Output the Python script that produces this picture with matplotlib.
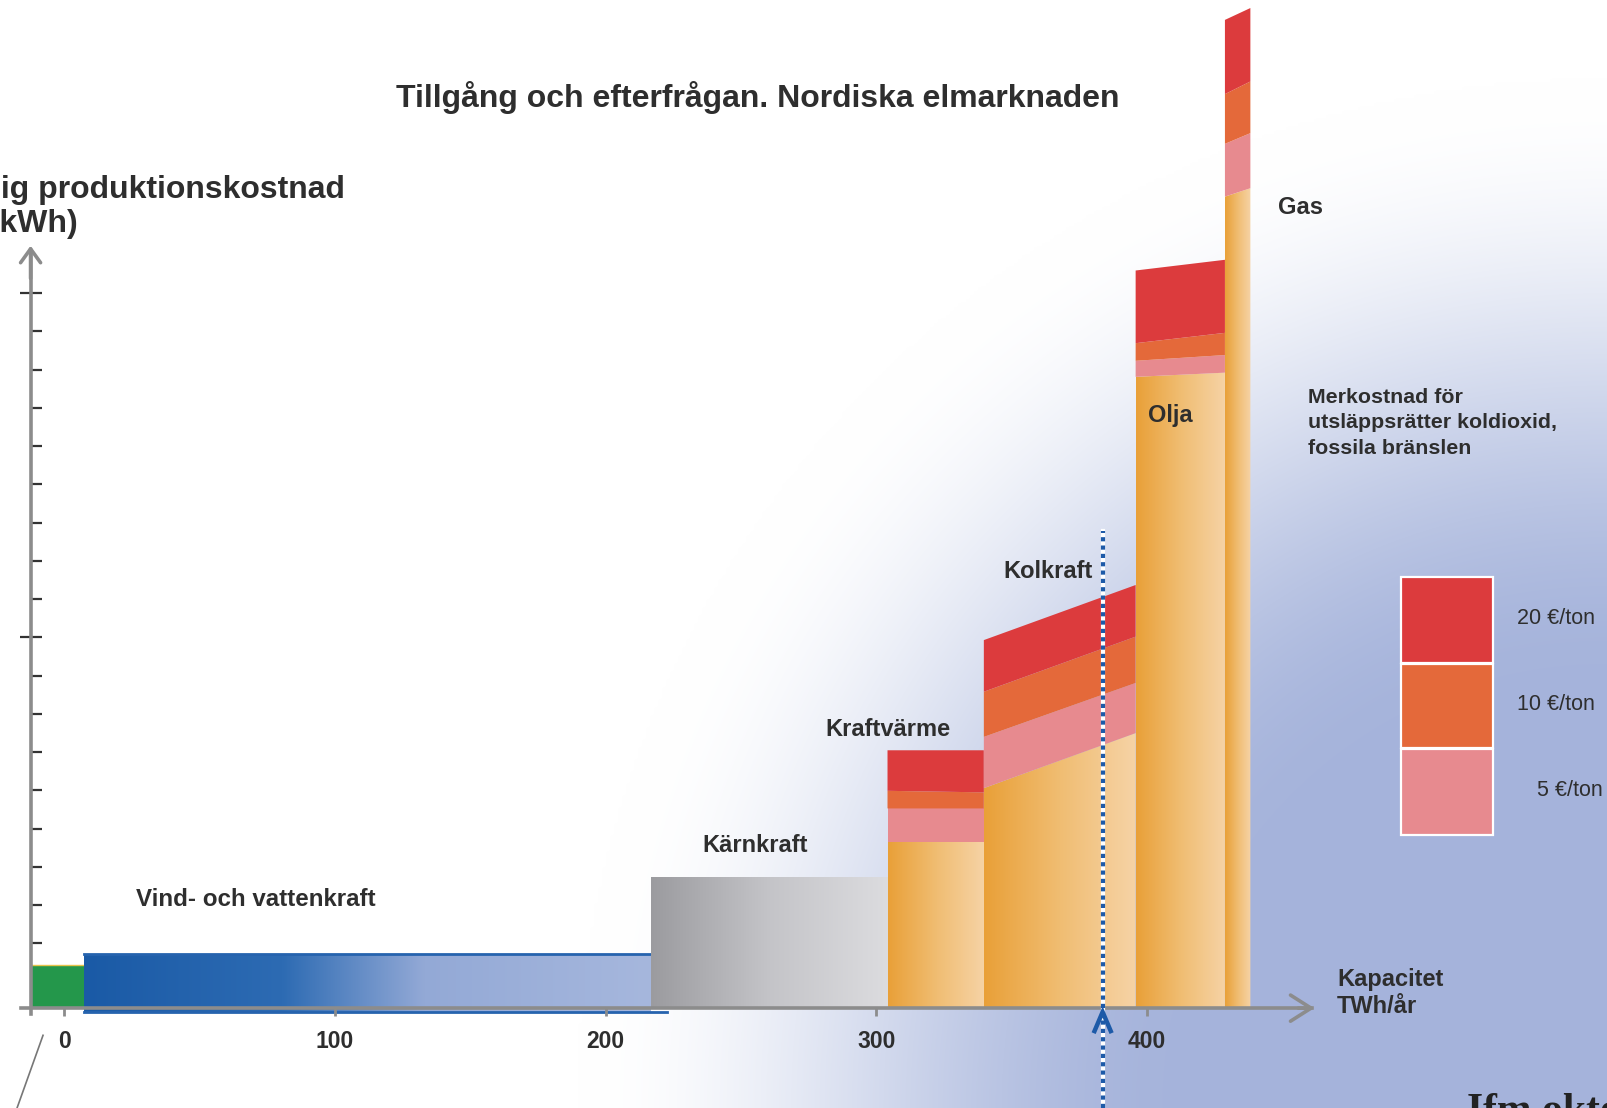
import numpy as np
import matplotlib.pyplot as plt
from matplotlib.colors import LinearSegmentedColormap
from matplotlib.patches import Polygon, Rectangle

plt.rcParams["font.family"] = ["Liberation Sans", "DejaVu Sans"]

# capacity of each block, TWh/år, left to right
blocks = ["Vind", "Vattenkraft", "Kärnkraft", "Kraftvärme", "Kolkraft", "Olja", "Gas"]
capacity = [19.8, 209.4, 87.5, 35.6, 56.1, 33.0, 9.4]

# production cost (no unit values on the axis, one step = one tick)
wind_cost = 1.14
hydro_cost = 1.41
nuclear_cost = 3.42

# fossil blocks: cost at left / right edge -> base, +5, +10, +20 €/ton
chp_left = [4.35, 5.22, 5.68, 6.74]
chp_right = [4.35, 5.22, 5.64, 6.74]
coal_left = [5.75, 7.09, 8.27, 9.62]
coal_right = [7.19, 8.50, 9.71, 11.06]
oil_left = [16.50, 16.92, 17.38, 19.28]
oil_right = [16.61, 17.07, 17.65, 19.56]
gas_left = [21.21, 22.59, 23.89, 25.83]
gas_right = [21.43, 22.87, 24.22, 26.14]

x_ticks = [0, 100, 200, 300, 400]
y_minor = [1.69, 2.69, 3.69, 4.69, 5.69, 6.69, 7.69, 8.69,
           10.69, 11.69, 12.69, 13.69, 14.69, 15.69, 16.69, 17.69]
y_major = [9.69, 18.69]
demand = 383.7
carbon_prices = ["20 €/ton", "10 €/ton", "5 €/ton"]

RED = "#dc3b3d"
ORANGE = "#e4693a"
PINK = "#e78a8f"
GRAY = "#8c8c8c"
TXT = "#2e2e2e"

XL, XR = -23.8, 570.1
YB, YT = -2.61, 26.35
x_axis = -12.5


def grad_poly(ax, verts, colors, z):
    poly = Polygon(verts, closed=True, facecolor="none", edgecolor="none", zorder=z)
    ax.add_patch(poly)
    xs = [p[0] for p in verts]
    ys = [p[1] for p in verts]
    cmap = LinearSegmentedColormap.from_list("g", colors)
    g = np.linspace(0, 1, 256).reshape(1, -1)
    im = ax.imshow(g, cmap=cmap, extent=[min(xs), max(xs), min(ys), max(ys)],
                   aspect="auto", zorder=z, interpolation="bicubic")
    im.set_clip_path(poly)


def fossil(ax, x0, x1, left, right):
    grad_poly(ax, [(x0, 0), (x1, 0), (x1, right[0]), (x0, left[0])],
              ["#e9a038", "#f0bd72", "#f6d3a6"], 4)
    for k, c in zip([1, 2, 3], [PINK, ORANGE, RED]):
        ax.add_patch(Polygon([(x0, left[k - 1]), (x1, right[k - 1]),
                              (x1, right[k]), (x0, left[k])],
                             closed=True, facecolor=c, edgecolor="none", zorder=4))


fig = plt.figure(figsize=(16.07, 11.08), dpi=100)
ax = fig.add_axes([0, 0, 1, 1])

# background: white, fading to blue-grey towards the bottom-right corner
H, W = 277, 402
px = np.linspace(0, 1607, W)[None, :]
py = np.linspace(0, 1108, H)[:, None]
d = np.hypot(1607 - px, 1108 - py)
t = np.clip((1025 - d) / 600, 0, 1)
t = t * t * (3 - 2 * t)
white = np.array([1.0, 1.0, 1.0])
blue = np.array([0.65, 0.705, 0.86])
bg = white * (1 - t[..., None]) + blue * t[..., None]
ax.imshow(bg, extent=[XL, XR, YB, YT], aspect="auto", zorder=0, interpolation="bicubic")

edges = x_axis + np.concatenate([[0], np.cumsum(capacity)])

# wind
ax.bar(edges[0], wind_cost, width=capacity[0], align="edge", color="#24974b",
       edgecolor="none", zorder=3)
ax.plot([edges[0], edges[1]], [wind_cost, wind_cost], color="#e7c34a", lw=1, zorder=3)
# hydro
grad_poly(ax, [(edges[1], -0.1), (edges[2], -0.1), (edges[2], hydro_cost), (edges[1], hydro_cost)],
          [(0, "#1a5aa6"), (0.35, "#2d6bb3"), (0.6, "#93a9d6"), (1, "#a6b7dd")], 3)
ax.plot([edges[1], edges[2]], [hydro_cost, hydro_cost], color="#2663ae", lw=2, zorder=3)
ax.plot([edges[1], edges[2] + 6], [-0.1, -0.1], color="#2663ae", lw=2, zorder=3)
# nuclear
grad_poly(ax, [(edges[2], 0), (edges[3], 0), (edges[3], nuclear_cost), (edges[2], nuclear_cost)],
          ["#9b9b9f", "#c4c4c8", "#dcdcdf"], 4)
# fossil
fossil(ax, edges[3], edges[4], chp_left, chp_right)
fossil(ax, edges[4], edges[5], coal_left, coal_right)
fossil(ax, edges[5], edges[6], oil_left, oil_right)
fossil(ax, edges[6], edges[7], gas_left, gas_right)

# axes
for s in ["top", "right"]:
    ax.spines[s].set_visible(False)
ax.spines["left"].set_position(("data", x_axis))
ax.spines["bottom"].set_position(("data", 0))
ax.spines["left"].set_bounds(-0.15, 19.8)
ax.spines["bottom"].set_bounds(x_axis - 3.5, 461)
for s in ["left", "bottom"]:
    ax.spines[s].set_color(GRAY)
    ax.spines[s].set_linewidth(2.6)
    ax.spines[s].set_zorder(8)
ax.annotate("", xy=(x_axis, 20.0), xytext=(x_axis, 19.0),
            arrowprops=dict(arrowstyle="->,head_length=0.5,head_width=0.36",
                            lw=2.6, color=GRAY, mutation_scale=20), zorder=8)
ax.annotate("", xy=(463, 0), xytext=(455, 0),
            arrowprops=dict(arrowstyle="->,head_length=0.74,head_width=0.47",
                            lw=2.6, color=GRAY, mutation_scale=20), zorder=8)

ax.set_xticks(x_ticks)
ax.set_xticklabels([str(x) for x in x_ticks], fontsize=16.5, fontweight="bold", color=TXT)
ax.tick_params(axis="x", direction="out", length=6, width=2, color=GRAY, pad=10)
ax.set_yticks(y_major)
ax.set_yticks(y_minor, minor=True)
ax.set_yticklabels([])
ax.tick_params(axis="y", which="major", direction="inout", length=16, width=1.6, color="#333333")
ax.tick_params(axis="y", which="minor", direction="in", length=8, width=1.6, color="#333333")
ax.xaxis.set_zorder(7)
ax.yaxis.set_zorder(7)

# demand line
ax.plot([demand, demand], [YB, 12.47], color="white", lw=3.0, zorder=9)
ax.plot([demand, demand], [YB, 12.47], color="#1d5aa8", lw=3.0, ls=(0, (1, 1)), zorder=9)
ax.plot([demand - 3, demand, demand + 3], [-0.6, -0.1, -0.6], color="#1d5aa8", lw=3.2,
        zorder=10, solid_joinstyle="miter")

# stray stroke bottom-left
ax.plot([-7.9, -17.5], [-0.71, -2.61], color="#777777", lw=1.2, zorder=5)

# labels
lab = dict(fontsize=17, fontweight="bold", color=TXT, va="center", ha="left", zorder=11)
ax.text(26.6, 2.85, "Vind- och vattenkraft", **{**lab, "fontsize": 17.4})
ax.text(235.6, 4.26, "Kärnkraft", **lab)
ax.text(281.4, 7.27, "Kraftvärme", **lab)
ax.text(346.9, 11.42, "Kolkraft", **lab)
ax.text(400.4, 15.50, "Olja", **lab)
ax.text(448.5, 20.92, "Gas", **lab)
ax.text(470.3, 0.39, "Kapacitet\nTWh/år", linespacing=1.25, **lab)
ax.text(459.6, 15.30, "Merkostnad för\nutsläppsrätter koldioxid,\nfossila bränslen",
        fontsize=15.4, fontweight="bold", color=TXT, va="center", ha="left", linespacing=1.45)

# legend for carbon price layers
leg_y = [(9.02, 11.27), (6.80, 8.99), (4.52, 6.77)]
for (y0, y1), c in zip(leg_y, [RED, ORANGE, PINK]):
    ax.add_patch(Rectangle((493.9, y0), 34.0, y1 - y0, facecolor=c, edgecolor="white",
                           lw=1.6, zorder=6))
for (y0, y1), s in zip(leg_y, carbon_prices):
    xx = 544.2 if s.startswith("5") else 536.8
    ax.text(xx, (y0 + y1) / 2 + 0.05, s, fontsize=15.5, color=TXT, va="center", ha="left")

fig.text(758 / 1607, 1 - 97 / 1108, "Tillgång och efterfrågan. Nordiska elmarknaden",
         fontsize=23, fontweight="bold", color=TXT, ha="center", va="center")
fig.text(-63 / 1607, 1 - 190 / 1108, "Rörlig produktionskostnad",
         fontsize=23, fontweight="bold", color=TXT, ha="left", va="center")
fig.text(-70 / 1607, 1 - 224 / 1108, "(öre/kWh)",
         fontsize=23, fontweight="bold", color=TXT, ha="left", va="center")
fig.text(1467 / 1607, 1 - 1093 / 1108, "Ifm oktober 2006", fontsize=30, fontweight="bold",
         family="Liberation Serif", color="#222222", ha="left", va="top")

ax.set_xlim(XL, XR)
ax.set_ylim(YB, YT)
fig.savefig("out.png", dpi=100)
